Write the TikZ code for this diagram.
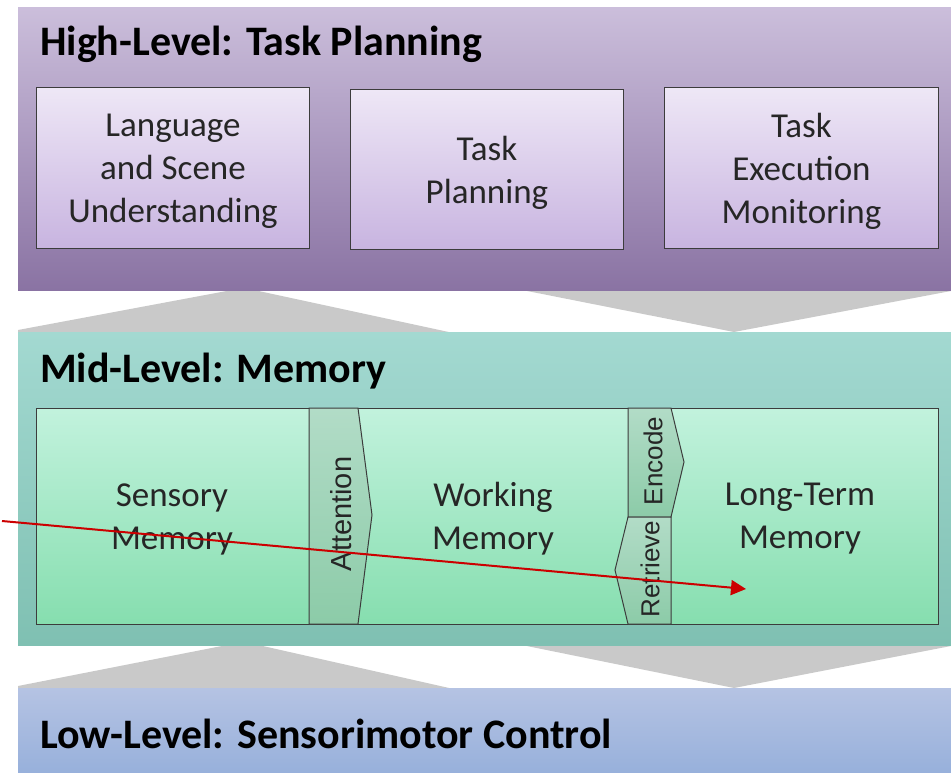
\documentclass[tikz,border=0pt]{standalone}
\usepackage{fontspec}
\setmainfont{Carlito}
\newfontfamily\labelfont{Liberation Sans}
\usetikzlibrary{arrows.meta}

\definecolor{hitop}{HTML}{CBBEDB}
\definecolor{hibot}{HTML}{8A73A3}
\definecolor{hiboxtop}{HTML}{EEE7F6}
\definecolor{hiboxbot}{HTML}{C8B4E0}
\definecolor{midtop}{HTML}{A3D9D1}
\definecolor{midbot}{HTML}{7FC0B2}
\definecolor{memtop}{HTML}{C2F2DD}
\definecolor{membot}{HTML}{86DEAF}
\definecolor{gatetop}{HTML}{B2DCC7}
\definecolor{gatebot}{HTML}{8CCBA8}
\definecolor{lotop}{HTML}{B5C3E3}
\definecolor{lobot}{HTML}{97B0DB}
\definecolor{linkgray}{HTML}{C9C9C9}
\definecolor{edge}{HTML}{3C3C3C}
\definecolor{pointer}{HTML}{CC0000}

\tikzset{
  band/.style={anchor=north west, inner sep=0pt, outer sep=0pt},
  bandtitle/.style={anchor=base west, inner sep=0pt,
    font=\fontsize{42}{50}\selectfont\bfseries, text=black},
  taskbox/.style={draw=edge, line width=1pt, anchor=north west,
    inner sep=0pt, top color=hiboxtop, bottom color=hiboxbot},
  boxtext/.style={align=center, inner sep=0pt,
    font=\fontsize{35}{43}\selectfont, text=black!85},
  gate/.style={draw=edge, line width=1pt, top color=gatetop, bottom color=gatebot},
  gatetext/.style={rotate=90, inner sep=0pt, text=black!85},
  link/.style={fill=linkgray, draw=none},
  pointerline/.style={draw=pointer, line width=2pt,
    -{Triangle[length=15pt, width=15pt]}}
}

\begin{document}
\begin{tikzpicture}[x=1pt, y=-1pt]
\useasboundingbox (0,0) rectangle (951,773);

% links between the levels
\fill[link] (18,334) -- (18,330) -- (232,290) -- (254,290) -- (458,334) -- cycle;
\fill[link] (512,288) -- (951,288) -- (951,291) -- (734,332) -- cycle;
\fill[link] (18,690) -- (18,686) -- (232,644) -- (254,644) -- (458,690) -- cycle;
\fill[link] (512,643) -- (951,643) -- (951,646) -- (734,688) -- cycle;

% the three levels
\node[band, minimum width=933pt, minimum height=282pt,
      top color=hitop, bottom color=hibot] (hi) at (18,8) {};
\node[band, minimum width=933pt, minimum height=313pt,
      top color=midtop, bottom color=midbot] (mid) at (18,332) {};
\node[band, minimum width=933pt, minimum height=86pt,
      top color=lotop, bottom color=lobot] (lo) at (18,688) {};

\node[bandtitle] (hititle) at (40,56) {High-Level: Task Planning};
\node[bandtitle] (midtitle) at (40,382) {Mid-Level: Memory};
\node[bandtitle] (lotitle) at (40,748) {Low-Level: Sensorimotor Control};

% task planning modules
\node[taskbox, minimum width=273pt, minimum height=161pt] (lang) at (36,87) {};
\node[taskbox, minimum width=273pt, minimum height=160pt] (plan) at (350,89) {};
\node[taskbox, minimum width=274pt, minimum height=161pt] (monitor) at (664,87) {};
\node[boxtext] (langtext) at ([yshift=-3pt]lang.center) {Language\\and Scene\\Understanding};
\node[boxtext] (plantext) at ([yshift=-3pt]plan.center) {Task\\Planning};
\node[boxtext] (monitortext) at ([yshift=-3pt]monitor.center) {Task\\Execution\\Monitoring};

% memory row
\node[band, draw=edge, line width=1pt, minimum width=902pt, minimum height=216pt,
      top color=memtop, bottom color=membot] (memrow) at (36,408) {};
\draw[gate] (309,408) -- (358,408) -- (372,515) -- (358,624) -- (309,624) -- cycle;
\draw[gate] (628,408) -- (671,408) -- (684,462) -- (671,517) -- (628,517) -- cycle;
\draw[gate] (628,517) -- (671,517) -- (671,624) -- (628,624) -- (615,570) -- cycle;

\node[boxtext] (sensory) at (172,519) {Sensory\\Memory};
\node[boxtext] (working) at (493,519) {Working\\Memory};
\node[boxtext] (longterm) at (800,519) {Long-Term\\Memory};

\node[gatetext, font=\labelfont\fontsize{29}{33}\selectfont] (attention) at (341,514) {Attention};
\node[gatetext, font=\labelfont\fontsize{26}{30}\selectfont] (encode) at (653,461) {Encode};
\node[gatetext, font=\labelfont\fontsize{26}{30}\selectfont] (retrieve) at (650,569) {Retrieve};

% pointer
\coordinate (pstart) at (2,521);
\coordinate (ptip) at (746,589);
\draw[pointerline] (pstart) -- (ptip);
\end{tikzpicture}
\end{document}
